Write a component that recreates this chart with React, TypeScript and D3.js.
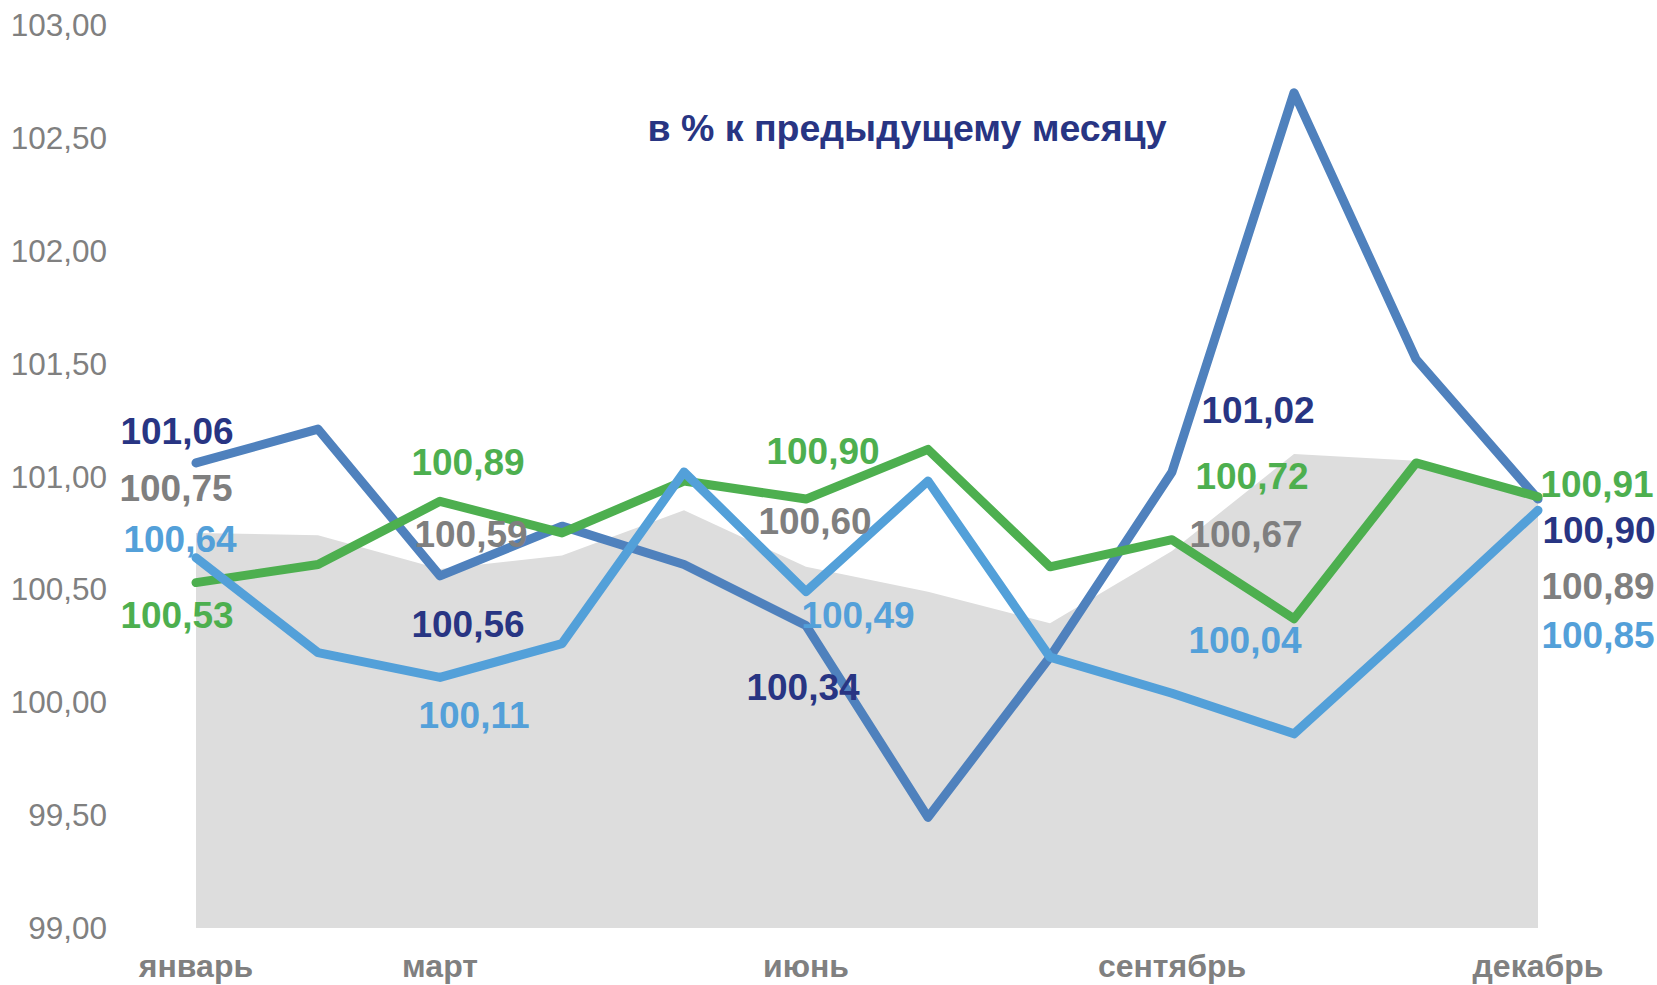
import React from "react";
import * as d3 from "d3";

const months = [
  "январь", "февраль", "март", "апрель", "май", "июнь",
  "июль", "август", "сентябрь", "октябрь", "ноябрь", "декабрь",
];
const shownMonths = ["январь", "март", "июнь", "сентябрь", "декабрь"];
const yTicks = [99, 99.5, 100, 100.5, 101, 101.5, 102, 102.5, 103];

// series values, % to previous month
const darkBlueValues = [101.06, 101.21, 100.56, 100.78, 100.61, 100.34, 99.49, 100.2, 101.02, 102.7, 101.52, 100.9];
const greenValues = [100.53, 100.61, 100.89, 100.75, 100.98, 100.9, 101.12, 100.6, 100.72, 100.37, 101.06, 100.91];
const lightBlueValues = [100.64, 100.22, 100.11, 100.26, 101.02, 100.49, 100.98, 100.2, 100.04, 99.86, 100.35, 100.85];
const grayValues = [100.75, 100.74, 100.59, 100.65, 100.85, 100.6, 100.49, 100.35, 100.67, 101.1, 101.07, 100.89];

const labelIdx = [0, 2, 5, 8, 11];

const W = 1657;
const H = 985;
const FONT = "'Liberation Sans', Arial, sans-serif";

export default function App() {
  const x = d3.scalePoint<string>().domain(months).range([196, 1538]);
  const y = d3.scaleLinear().domain([99, 103]).range([928, 25]);
  const fmt = (v: number) => v.toFixed(2).replace(".", ",");

  const line = d3
    .line<number>()
    .x((d, i) => x(months[i]) as number)
    .y((d) => y(d));
  const area = d3
    .area<number>()
    .x((d, i) => x(months[i]) as number)
    .y0(y(99))
    .y1((d) => y(d));

  const series = [
    { values: grayValues, stroke: null, text: "#7f7f7f", offs: [[-20, -45], [31, -35], [9, -46], [74, -17], [60, 85]] },
    { values: darkBlueValues, stroke: "#4f81bd", text: "#283583", offs: [[-19, -32], [28, 48], [-3, 62], [86, -62], [61, 31]] },
    { values: greenValues, stroke: "#4daf4f", text: "#4daf4f", offs: [[-19, 32], [28, -39], [17, -48], [80, -64], [59, -13]] },
    { values: lightBlueValues, stroke: "#53a0d9", text: "#53a0d9", offs: [[-16, -19], [34, 38], [52, 23], [73, -53], [60, 125]] },
  ];

  return (
    <div style={{ position: "absolute", left: 0, top: 0 }}>
      <svg width={W} height={H} style={{ display: "block", fontFamily: FONT }}>
        <rect width={W} height={H} fill="#fff" />
        <path d={area(grayValues) || ""} fill="#dddddd" />

        {series.filter((s) => s.stroke).map((s, k) => (
          <path
            key={k}
            d={line(s.values) || ""}
            fill="none"
            stroke={s.stroke as string}
            strokeWidth={9}
            strokeLinejoin="round"
            strokeLinecap="round"
          />
        ))}

        {yTicks.map((t) => (
          <text key={t} x={107} y={y(t)} dy="0.35em" textAnchor="end" fontSize={31.5} fill="#808080">
            {fmt(t)}
          </text>
        ))}

        {shownMonths.map((m) => (
          <text key={m} x={x(m)} y={977} textAnchor="middle" fontSize={32} fontWeight="bold" fill="#808080">
            {m}
          </text>
        ))}

        <text x={907} y={141} textAnchor="middle" fontSize={37.5} fontWeight="bold" fill="#283583">
          в % к предыдущему месяцу
        </text>

        {series.map((s, k) =>
          labelIdx.map((i, j) => (
            <text
              key={`${k}-${i}`}
              x={(x(months[i]) as number) + s.offs[j][0]}
              y={y(s.values[i]) + s.offs[j][1]}
              dy="0.35em"
              textAnchor="middle"
              fontSize={37}
              fontWeight="bold"
              fill={s.text}
            >
              {fmt(s.values[i])}
            </text>
          ))
        )}
      </svg>
    </div>
  );
}
